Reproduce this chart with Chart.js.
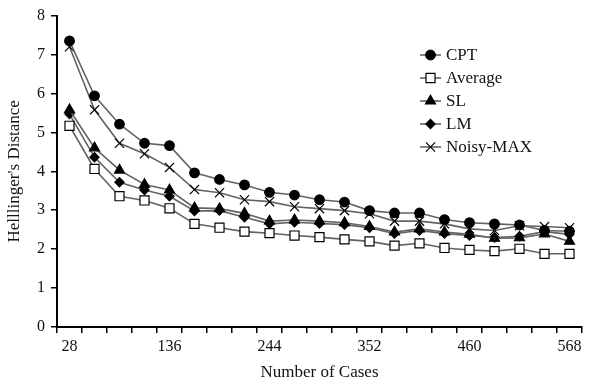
<!DOCTYPE html>
<html>
<head>
<meta charset="utf-8">
<script src="https://cdn.jsdelivr.net/npm/chart.js@4.4.0/dist/chart.umd.min.js"></script>
<style>
  html, body { margin: 0; padding: 0; background: #fff; }
  #wrap { width: 590px; height: 388px; position: relative; }
</style>
</head>
<body>
<div id="wrap"><canvas id="distanceChart"></canvas></div>
<script>
// Number of cases (x categories) and Hellinger's distance per method
const caseCounts = [28, 55, 82, 109, 136, 163, 190, 217, 244, 271, 298, 325, 352, 379, 406, 433, 460, 487, 514, 541, 568];
const cptValues = [7.35, 5.94, 5.21, 4.72, 4.66, 3.96, 3.79, 3.65, 3.46, 3.39, 3.27, 3.21, 2.99, 2.93, 2.93, 2.76, 2.68, 2.65, 2.62, 2.48, 2.46];
const averageValues = [5.17, 4.06, 3.36, 3.25, 3.05, 2.65, 2.55, 2.45, 2.41, 2.35, 2.31, 2.25, 2.20, 2.09, 2.15, 2.03, 1.98, 1.95, 2.01, 1.88, 1.88];
const slValues = [5.58, 4.60, 4.03, 3.66, 3.52, 3.06, 3.04, 2.92, 2.72, 2.75, 2.72, 2.68, 2.58, 2.44, 2.52, 2.44, 2.38, 2.28, 2.29, 2.39, 2.20];
const lmValues = [5.47, 4.36, 3.72, 3.52, 3.36, 2.98, 2.99, 2.82, 2.65, 2.69, 2.66, 2.63, 2.55, 2.40, 2.48, 2.40, 2.35, 2.30, 2.33, 2.45, 2.38];
const noisyMaxValues = [7.20, 5.58, 4.72, 4.45, 4.10, 3.53, 3.45, 3.27, 3.22, 3.09, 3.04, 2.99, 2.91, 2.72, 2.72, 2.65, 2.52, 2.48, 2.60, 2.58, 2.55];
const yTicks = [0, 1, 2, 3, 4, 5, 6, 7, 8];

const serif = "'Liberation Serif', 'Times New Roman', serif";
const lineGray = '#636363';

function series(label, data, style, radius, fill) {
    return {
        label: label,
        data: data,
        borderColor: lineGray,
        borderWidth: 1.6,
        pointStyle: style,
        pointRadius: radius,
        pointBackgroundColor: fill,
        pointBorderColor: '#000',
        pointBorderWidth: 1.2,
        tension: 0,
        fill: false
    };
}

// Legend drawn inside the plot, line sample + marker like the original
const insideLegend = {
    id: 'insideLegend',
    afterDatasetsDraw(chart) {
        const ctx = chart.ctx;
        const x0 = 420, x1 = 441, textX = 446;
        let y = 55;
        chart.data.datasets.forEach(ds => {
            ctx.save();
            ctx.strokeStyle = ds.borderColor;
            ctx.lineWidth = ds.borderWidth;
            ctx.beginPath();
            ctx.moveTo(x0, y);
            ctx.lineTo(x1, y);
            ctx.stroke();
            ctx.fillStyle = ds.pointBackgroundColor;
            ctx.strokeStyle = ds.pointBorderColor;
            ctx.lineWidth = ds.pointBorderWidth;
            Chart.helpers.drawPoint(ctx, {
                pointStyle: ds.pointStyle,
                radius: ds.pointRadius,
                rotation: 0,
                borderWidth: ds.pointBorderWidth
            }, (x0 + x1) / 2, y);
            ctx.fillStyle = '#111';
            ctx.font = '17px ' + serif;
            ctx.textBaseline = 'middle';
            ctx.textAlign = 'left';
            ctx.fillText(ds.label, textX, y + 1);
            ctx.restore();
            y += 23;
        });
    }
};

new Chart(document.getElementById('distanceChart'), {
    type: 'line',
    data: {
        labels: caseCounts,
        datasets: [
            series('CPT', cptValues, 'circle', 4.8, '#000'),
            series('Average', averageValues, 'rect', 6.4, '#fff'),
            series('SL', slValues, 'triangle', 5.8, '#000'),
            series('LM', lmValues, 'rectRot', 4.6, '#000'),
            series('Noisy-MAX', noisyMaxValues, 'crossRot', 6.5, '#000')
        ]
    },
    options: {
        responsive: true,
        maintainAspectRatio: false,
        animation: false,
        layout: { padding: { top: 15, right: 8, left: 0, bottom: 0 } },
        plugins: {
            legend: { display: false },
            tooltip: { enabled: false }
        },
        scales: {
            x: {
                type: 'category',
                offset: true,
                grid: {
                    offset: true,
                    drawOnChartArea: false,
                    drawTicks: true,
                    tickLength: 6,
                    color: '#000',
                    lineWidth: 1.5
                },
                border: { color: '#000', width: 2 },
                ticks: {
                    autoSkip: false,
                    maxRotation: 0,
                    color: '#111',
                    font: { family: serif, size: 16 },
                    padding: 4,
                    callback: function(value, index) {
                        return index % 4 === 0 ? caseCounts[index] : '';
                    }
                },
                title: {
                    display: true,
                    text: 'Number of Cases',
                    color: '#111',
                    font: { family: serif, size: 17 },
                    padding: { top: 0, bottom: 5 }
                },
                afterFit: function(scale) { scale.height = 61; }
            },
            y: {
                min: 0,
                max: 8,
                grid: {
                    drawOnChartArea: false,
                    drawTicks: true,
                    tickLength: 6,
                    color: '#000',
                    lineWidth: 1.5
                },
                border: { color: '#000', width: 2 },
                afterBuildTicks: function(scale) {
                    scale.ticks = yTicks.map(v => ({ value: v }));
                },
                ticks: {
                    color: '#111',
                    font: { family: serif, size: 16 },
                    padding: 6
                },
                title: {
                    display: true,
                    text: "Helllinger's Distance",
                    color: '#111',
                    font: { family: serif, size: 17 },
                    padding: { top: 4, bottom: 0 }
                },
                afterFit: function(scale) { scale.width = 57; }
            }
        }
    },
    plugins: [insideLegend]
});
</script>
</body>
</html>
